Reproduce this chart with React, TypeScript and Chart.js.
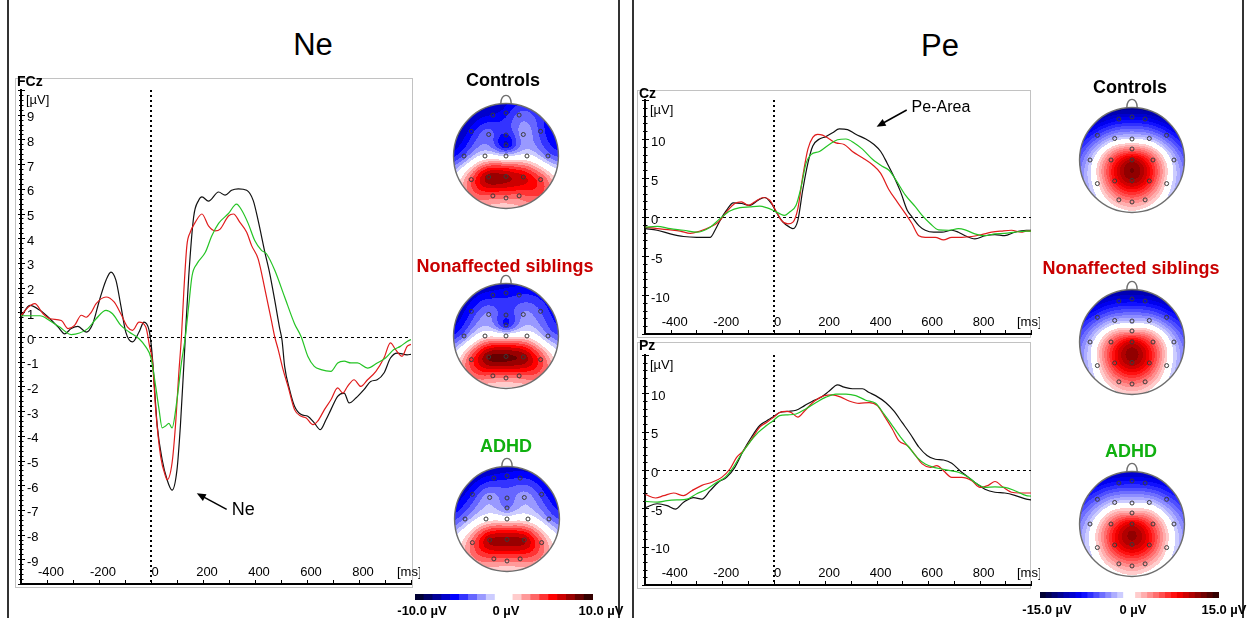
import React, { useEffect, useRef } from "react";
import { Chart, registerables } from "chart.js";

Chart.register(...registerables);

const FONT = '"Liberation Sans", Arial, Helvetica, sans-serif';

// ---------------- ERP waveforms (time in ms, amplitude in µV) ----------------
// FCz
const fczControlsT = [-500, -466, -427, -389, -357, -332, -307, -281, -249, -224, -198, -173, -154, -135, -116, -97, -71, -46, -27, -8, 0, 8, 24, 43, 62, 81, 100, 113, 126, 132, 145, 164, 183, 196, 221, 260, 285, 310, 336, 368, 393, 412, 438, 457, 476, 494, 504, 514, 533, 552, 578, 603, 628, 651, 673, 692, 718, 743, 762, 788, 819, 845, 870, 896, 921, 947, 985, 1000];
const fczControlsV = [0.8, 1.28, 1.08, 0.74, 0.4, 0.13, 0.34, 0.43, 0.2, 0.54, 1.5, 2.3, 2.63, 2.3, 1.27, 0.2, -0.2, 0.2, 0.6, 0.3, -0.24, -1.19, -3.6, -4.97, -5.78, -6.2, -5.37, -3.6, -1.19, 0, 2.43, 4.86, 5.53, 5.67, 5.5, 5.87, 5.74, 5.94, 6.0, 5.94, 5.53, 4.72, 3.43, 2.56, 1.48, 0.4, -0.13, -1.19, -2.13, -2.8, -3.14, -3.21, -3.48, -3.75, -3.35, -2.94, -2.4, -2.27, -2.67, -2.47, -2.13, -1.8, -1.73, -1.46, -0.85, -0.65, -0.72, -0.7];
const fczSiblingsT = [-500, -473, -447, -415, -389, -345, -319, -294, -268, -249, -230, -211, -173, -142, -116, -90, -71, -46, -20, -5, 5, 18, 37, 56, 62, 81, 94, 107, 117, 126, 138, 151, 170, 196, 221, 247, 266, 298, 317, 342, 368, 387, 412, 438, 463, 476, 489, 508, 527, 552, 578, 597, 623, 641, 667, 692, 718, 738, 756, 781, 807, 833, 865, 896, 921, 940, 966, 985, 1000];
const fczSiblingsV = [0.86, 1.2, 1.35, 0.94, 0.74, 0.67, 0.34, 0.47, 0.88, 0.8, 1.0, 1.35, 1.62, 1.42, 0.94, 0.4, 0.27, 0.6, 0.4, -0.4, -0.92, -2.94, -4.83, -5.64, -5.78, -5.1, -3.6, -1.46, 0, 1.8, 3.7, 4.24, 4.64, 4.98, 4.5, 4.3, 4.37, 4.9, 4.98, 4.64, 4.24, 3.7, 3.16, 1.94, 0.67, 0, -0.5, -1.32, -2.0, -2.94, -3.21, -3.28, -3.55, -3.41, -2.94, -2.54, -2.06, -2.27, -2.0, -1.73, -2.0, -1.73, -1.39, -0.85, -0.24, -0.5, -0.78, -0.38, -0.3];
const fczAdhdT = [-500, -466, -427, -389, -351, -307, -275, -243, -211, -173, -148, -116, -84, -46, -20, 0, 18, 31, 43, 56, 69, 81, 100, 117, 132, 145, 158, 177, 209, 234, 260, 298, 329, 349, 374, 399, 425, 444, 476, 514, 552, 578, 603, 628, 654, 692, 718, 743, 769, 794, 833, 870, 902, 934, 959, 985, 1000];
const fczAdhdV = [0.86, 0.86, 0.86, 0.66, 0.4, 0.1, 0.16, 0.34, 0.74, 1.08, 0.94, 0.47, 0.2, -0.07, -0.4, -0.85, -2.0, -2.94, -3.68, -3.6, -3.5, -3.68, -2.54, -1.05, 0, 1.27, 2.48, 2.97, 3.43, 4.1, 4.6, 5.0, 5.38, 5.13, 4.59, 3.91, 3.51, 3.37, 2.7, 1.62, 0.54, 0, -0.78, -1.19, -1.32, -1.39, -1.05, -0.98, -1.05, -1.05, -1.26, -1.05, -0.85, -0.51, -0.38, -0.18, -0.1];

// Cz
const czControlsT = [-498, -453, -402, -350, -299, -247, -228, -208, -183, -157, -125, -93, -60, -35, -9, 10, 36, 62, 75, 94, 113, 133, 152, 178, 203, 229, 255, 287, 319, 358, 390, 416, 441, 467, 493, 519, 538, 564, 589, 622, 654, 692, 718, 744, 782, 821, 860, 898, 937, 982, 1000];
const czControlsV = [-1.5, -1.7, -2.16, -2.5, -2.6, -2.6, -1.7, -0.43, 0.87, 1.82, 1.73, 1.5, 2.16, 2.5, 1.73, 0.65, -0.65, -1.3, -1.5, -0.43, 3.46, 6.9, 9.1, 10.0, 10.3, 10.8, 11.3, 11.2, 10.6, 10.0, 9.3, 8.4, 6.9, 5.2, 3.25, 0.87, 0, -1.1, -1.7, -1.95, -1.95, -1.7, -1.95, -2.4, -2.8, -2.4, -2.25, -2.4, -1.95, -1.7, -1.7];
const czSiblingsT = [-498, -453, -402, -363, -324, -286, -247, -215, -183, -151, -125, -99, -73, -41, -15, 4, 30, 55, 75, 94, 113, 133, 152, 171, 190, 216, 242, 274, 306, 345, 384, 416, 448, 480, 512, 538, 564, 589, 628, 660, 692, 731, 770, 808, 847, 885, 924, 963, 982, 1000];
const czSiblingsV = [-1.3, -1.5, -1.65, -1.8, -2.1, -1.8, -1.3, -0.65, 0.65, 1.73, 1.95, 1.5, 1.95, 2.5, 2.16, 1.08, -0.43, -0.87, -0.65, 1.08, 5.2, 8.7, 10.2, 10.6, 10.5, 10.0, 9.5, 9.3, 8.4, 7.6, 6.7, 5.6, 3.5, 1.95, 0.43, -0.87, -2.4, -2.6, -2.6, -2.94, -2.6, -2.6, -2.5, -2.25, -1.95, -1.8, -1.7, -1.95, -1.8, -1.8];
const czAdhdT = [-498, -453, -402, -350, -299, -247, -208, -170, -131, -93, -54, -28, -3, 23, 42, 62, 87, 107, 126, 145, 178, 216, 248, 281, 313, 345, 384, 422, 448, 474, 512, 551, 577, 609, 641, 680, 718, 744, 782, 821, 860, 898, 937, 982, 1000];
const czAdhdV = [-1.3, -1.2, -1.5, -1.7, -1.95, -1.3, -0.2, 0.78, 1.2, 1.3, 1.4, 1.2, 0.87, 0.43, 0.2, 0.65, 1.5, 3.9, 6.9, 8.0, 8.4, 9.3, 9.9, 10.0, 9.5, 8.7, 7.4, 6.5, 6.0, 4.8, 2.8, 1.3, 0.2, -0.87, -1.65, -1.7, -1.5, -1.65, -2.16, -2.4, -2.16, -2.1, -1.95, -1.8, -1.8];

// Pz
const pzControlsT = [-498, -453, -414, -382, -350, -311, -279, -247, -215, -183, -151, -118, -86, -54, -28, -3, 23, 55, 87, 120, 152, 184, 216, 248, 274, 306, 345, 371, 396, 435, 467, 499, 531, 564, 596, 628, 660, 692, 724, 757, 789, 821, 860, 898, 937, 982, 1000];
const pzControlsV = [-4.9, -4.4, -4.65, -5.1, -4.2, -3.6, -3.8, -2.7, -1.6, -0.96, 0.35, 2.5, 4.3, 5.8, 6.4, 6.9, 7.5, 7.65, 7.8, 8.4, 9.0, 9.5, 10.3, 11.1, 10.8, 10.6, 10.6, 10.1, 9.7, 8.8, 7.7, 6.2, 4.7, 3.0, 1.9, 1.4, 1.3, 0.87, -0.09, -0.96, -1.8, -2.5, -2.9, -3.0, -3.3, -3.8, -3.9];
const pzSiblingsT = [-498, -459, -427, -389, -350, -318, -279, -240, -202, -170, -144, -118, -86, -54, -28, -3, 23, 49, 68, 94, 120, 159, 197, 229, 261, 293, 332, 371, 403, 429, 461, 487, 519, 551, 577, 609, 634, 660, 692, 731, 770, 802, 834, 860, 892, 924, 956, 982, 1000];
const pzSiblingsV = [-3.2, -3.65, -3.35, -3.0, -3.35, -2.7, -2.0, -1.6, -0.96, 0.13, 1.65, 2.5, 4.0, 5.6, 6.2, 6.8, 7.5, 7.65, 7.5, 6.9, 7.7, 9.0, 9.7, 9.8, 9.5, 9.0, 8.7, 8.8, 8.4, 7.1, 5.35, 3.8, 3.2, 1.9, 0.8, 0.35, 0.57, -0.09, -0.96, -0.96, -1.4, -2.26, -2.0, -1.5, -2.26, -2.9, -3.0, -3.0, -3.0];
const pzAdhdT = [-498, -453, -414, -376, -337, -299, -260, -221, -189, -157, -125, -93, -60, -28, -3, 23, 55, 87, 126, 165, 203, 242, 281, 319, 358, 396, 429, 461, 493, 525, 557, 589, 622, 654, 686, 718, 757, 789, 821, 860, 898, 937, 982, 1000];
const pzAdhdV = [-4.1, -4.2, -4.0, -3.9, -3.8, -3.1, -2.5, -1.6, -0.96, 0.35, 2.1, 3.6, 4.9, 5.8, 6.4, 7.1, 7.2, 7.3, 8.0, 8.8, 9.5, 9.9, 9.9, 9.7, 9.1, 8.7, 7.3, 5.8, 4.3, 3.0, 1.65, 0.78, 0.35, 0.13, -0.09, -0.3, -0.96, -1.8, -2.26, -2.2, -2.26, -2.7, -3.35, -3.4];

// ---------------- Topography (electrode positions & values) ----------------
const electrodeNames = ["Fp1", "Fpz", "Fp2", "F7", "F3", "Fz", "F4", "F8", "FCz", "T7", "C3", "Cz", "C4", "T8", "P7", "P3", "Pz", "P4", "P8", "O1", "Oz", "O2"];
const electrodeX = [-0.25, 0, 0.25, -0.66, -0.33, 0, 0.33, 0.66, 0, -0.8, -0.4, 0, 0.4, 0.8, -0.66, -0.33, 0, 0.33, 0.66, -0.25, 0, 0.25];
const electrodeY = [0.78, 0.82, 0.78, 0.47, 0.41, 0.4, 0.41, 0.47, 0.21, 0, 0, 0, 0, 0, -0.45, -0.4, -0.39, -0.4, -0.45, -0.76, -0.8, -0.76];

const neControlsTopo = [-6, -5.5, -3.5, -5.5, -3, -5, -2, -4.5, -7, -4, -0.5, -1, -0.5, -3.5, 4, 8, 7.5, 6.5, 4.5, 3.5, 3, 3.5];
const neSiblingsTopo = [-5.5, -5.5, -5, -5, -2.5, -4.5, -2.5, -4, -6, -3.5, 0.5, 0.5, 0.5, -3, 4.5, 8.5, 8.5, 8, 4.5, 3.5, 3, 3.5];
const neAdhdTopo = [-5.5, -5.5, -5, -5, -2, -3.5, -2, -4.5, -3.5, -3, 0, 0, 0, -3, 3.5, 7.5, 7.5, 7.5, 3.5, 3.5, 3, 3.5];
const peControlsTopo = [-8.5, -9, -8.5, -6, -2, -1, -2, -6, 3.5, -2, 5.5, 11, 5.5, -2, 0.5, 7.5, 11, 7.5, 0.5, 3, 3.5, 3];
const peSiblingsTopo = [-8.5, -9, -8.5, -6, -2.5, -2, -2.5, -6, 2, -2, 5, 10, 5, -2, 0.5, 7.5, 11, 7.5, 0.5, 3.5, 4, 3.5];
const peAdhdTopo = [-7.5, -8, -7.5, -5, -1.5, -1, -1.5, -5, 2.5, -1.5, 5, 10, 5, -1.5, 1, 7.5, 10.5, 7.5, 1, 3, 3.5, 3];

// colour-scale bins (lower edge of each bin, µV)
const neScaleBins = [-10, -9, -8, -7, -6, -5, -4, -3, -2, -1, 0, 1, 2, 3, 4, 5, 6, 7, 8, 9];
const peScaleBins = [-15, -14, -13, -12, -11, -10, -9, -8, -7, -6, -5, -4, -3, -2, -1, 0, 1, 2, 3, 4, 5, 6, 7, 8, 9, 10, 11, 12, 13, 14];

// ---------------- styles ----------------
const COL_CONTROLS = "#111111";
const COL_SIBLINGS = "#e01c1c";
const COL_ADHD = "#25c425";
const BLUE_STEPS = ["#000033", "#000066", "#000099", "#0000cc", "#0000ff", "#3333ff", "#6666ff", "#9999ff", "#ccccff"];
const RED_STEPS = ["#ffcccc", "#ff9999", "#ff6666", "#ff3333", "#ff0000", "#cc0000", "#990000", "#660000", "#330000"];

function hexRgb(h: string): number[] {
  return [parseInt(h.slice(1, 3), 16), parseInt(h.slice(3, 5), 16), parseInt(h.slice(5, 7), 16)];
}
function makePalette(nBins: number): number[][] {
  const half = (nBins - 2) / 2;
  const sample = (list: string[], k: number) => {
    const pos = half <= 1 ? 0 : (k * (list.length - 1)) / (half - 1);
    const i = Math.floor(pos);
    const f = pos - i;
    const a = hexRgb(list[i]);
    const b = hexRgb(list[Math.min(i + 1, list.length - 1)]);
    return [0, 1, 2].map((c) => Math.round(a[c] + (b[c] - a[c]) * f));
  };
  const out: number[][] = [];
  for (let k = 0; k < half; k++) out.push(sample(BLUE_STEPS, k));
  out.push([255, 255, 255], [255, 255, 255]);
  for (let k = 0; k < half; k++) out.push(sample(RED_STEPS, k));
  return out;
}

// thin-plate spline interpolation of the electrode values
function fitSurface(xs: number[], ys: number[], vs: number[], lambda: number) {
  const n = xs.length;
  const N = n + 3;
  const U = (d2: number) => (d2 <= 1e-12 ? 0 : 0.5 * d2 * Math.log(d2));
  const M: number[][] = [];
  for (let i = 0; i < N; i++) M.push(new Array(N + 1).fill(0));
  for (let i = 0; i < n; i++) {
    for (let j = 0; j < n; j++) {
      const dx = xs[i] - xs[j];
      const dy = ys[i] - ys[j];
      M[i][j] = U(dx * dx + dy * dy) + (i === j ? lambda : 0);
    }
    M[i][n] = 1; M[i][n + 1] = xs[i]; M[i][n + 2] = ys[i];
    M[n][i] = 1; M[n + 1][i] = xs[i]; M[n + 2][i] = ys[i];
    M[i][N] = vs[i];
  }
  for (let c = 0; c < N; c++) {
    let p = c;
    for (let r = c + 1; r < N; r++) if (Math.abs(M[r][c]) > Math.abs(M[p][c])) p = r;
    const tmp = M[c]; M[c] = M[p]; M[p] = tmp;
    const piv = M[c][c];
    for (let r = 0; r < N; r++) {
      if (r === c) continue;
      const f = M[r][c] / piv;
      if (f !== 0) for (let k = c; k <= N; k++) M[r][k] -= f * M[c][k];
    }
  }
  const sol = M.map((row, i) => row[N] / row[i]);
  return (x: number, y: number) => {
    let s = sol[n] + sol[n + 1] * x + sol[n + 2] * y;
    for (let i = 0; i < n; i++) {
      const dx = x - xs[i];
      const dy = y - ys[i];
      s += sol[i] * U(dx * dx + dy * dy);
    }
    return s;
  };
}

// ---------------- ERP chart ----------------
type Series = { label: string; t: number[]; v: number[]; color: string };
type Arrow = { from: number[]; to: number[]; text: string; textAt: number[]; size: number };
type ErpProps = {
  left: number; top: number; width: number; height: number;
  pad: { left: number; right: number; top: number; bottom: number };
  frame: { x: number; y: number; w: number; h: number };
  name: string; yMax: number; yStep: number; yMinor: number;
  series: Series[]; arrow?: Arrow;
};

function ErpChart(p: ErpProps) {
  const ref = useRef<HTMLCanvasElement>(null);
  useEffect(() => {
    if (!ref.current) return;
    const decor = {
      id: "erpDecor",
      beforeDraw(chart: any) {
        const ctx = chart.ctx;
        const f = p.frame;
        ctx.save();
        ctx.strokeStyle = "#c2c2c2";
        ctx.lineWidth = 1;
        ctx.strokeRect(f.x + 0.5, f.y + 0.5, f.w, f.h);
        ctx.restore();
      },
      beforeDatasetsDraw(chart: any) {
        const { ctx, chartArea: a, scales } = chart;
        const x = scales.x;
        const y = scales.y;
        ctx.save();
        ctx.strokeStyle = "#000";
        const y0 = Math.round(y.getPixelForValue(0)) + 0.5;
        ctx.lineWidth = 1;
        ctx.setLineDash([3, 3]);
        ctx.beginPath(); ctx.moveTo(a.left + 12, y0); ctx.lineTo(a.right, y0); ctx.stroke();
        const x0 = Math.round(x.getPixelForValue(0));
        ctx.lineWidth = 2;
        ctx.setLineDash([2, 3]);
        ctx.beginPath(); ctx.moveTo(x0, a.top); ctx.lineTo(x0, a.bottom); ctx.stroke();
        ctx.setLineDash([]);
        ctx.lineWidth = 1;
        const nMinor = Math.round((y.max - y.min) / p.yMinor);
        for (let i = 0; i <= nMinor; i++) {
          const v = y.min + i * p.yMinor;
          const py = Math.round(y.getPixelForValue(v)) + 0.5;
          const major = Math.abs(v / p.yStep - Math.round(v / p.yStep)) < 1e-6;
          ctx.beginPath();
          ctx.moveTo(a.left - (major ? 3 : 2), py);
          ctx.lineTo(a.left + (major ? 4 : 2.5), py);
          ctx.stroke();
        }
        for (const tk of x.ticks) {
          const px = Math.round(x.getPixelForValue(tk.value)) + 0.5;
          ctx.beginPath(); ctx.moveTo(px, a.bottom); ctx.lineTo(px, a.bottom - 4); ctx.stroke();
        }
        ctx.restore();
      },
      afterDraw(chart: any) {
        const { ctx, chartArea: a, scales } = chart;
        const x = scales.x;
        const y = scales.y;
        ctx.save();
        ctx.fillStyle = "#000";
        ctx.textBaseline = "middle";
        ctx.textAlign = "left";
        ctx.font = `bold 14px ${FONT}`;
        ctx.fillText(p.name, p.frame.x + 2, p.frame.y + 4);
        ctx.font = `13px ${FONT}`;
        ctx.fillText("[µV]", a.left + 5, a.top + 10);
        ctx.fillText("[ms]", a.right - 14, a.bottom - 12);
        const ar = p.arrow;
        if (ar) {
          const fx = x.getPixelForValue(ar.from[0]);
          const fy = y.getPixelForValue(ar.from[1]);
          const tx = x.getPixelForValue(ar.to[0]);
          const ty = y.getPixelForValue(ar.to[1]);
          const ang = Math.atan2(ty - fy, tx - fx);
          ctx.strokeStyle = "#000";
          ctx.lineWidth = 1.5;
          ctx.beginPath(); ctx.moveTo(fx, fy); ctx.lineTo(tx - 6 * Math.cos(ang), ty - 6 * Math.sin(ang)); ctx.stroke();
          ctx.beginPath();
          ctx.moveTo(tx, ty);
          ctx.lineTo(tx - 9 * Math.cos(ang) + 3.8 * Math.sin(ang), ty - 9 * Math.sin(ang) - 3.8 * Math.cos(ang));
          ctx.lineTo(tx - 9 * Math.cos(ang) - 3.8 * Math.sin(ang), ty - 9 * Math.sin(ang) + 3.8 * Math.cos(ang));
          ctx.closePath();
          ctx.fill();
          ctx.font = `${ar.size}px ${FONT}`;
          ctx.fillText(ar.text, x.getPixelForValue(ar.textAt[0]), y.getPixelForValue(ar.textAt[1]));
        }
        ctx.restore();
      },
    };
    const chart = new Chart(ref.current, {
      type: "line",
      data: {
        datasets: p.series.map((s) => ({
          label: s.label,
          data: s.t.map((t, i) => ({ x: t, y: s.v[i] })),
          borderColor: s.color,
          borderWidth: 1.2,
          pointRadius: 0,
          fill: false,
          cubicInterpolationMode: "monotone",
        })),
      },
      options: {
        responsive: false,
        animation: false,
        devicePixelRatio: 1,
        events: [],
        layout: { padding: p.pad },
        plugins: { legend: { display: false }, tooltip: { enabled: false } },
        scales: {
          x: {
            type: "linear",
            min: -500,
            max: 1000,
            afterFit: (s: any) => { s.height = 0; s.paddingLeft = 0; s.paddingRight = 0; },
            grid: { display: false },
            border: { display: true, color: "#000", width: 2 },
            ticks: {
              stepSize: 100,
              mirror: true,
              padding: 4,
              labelOffset: 4,
              autoSkip: false,
              maxRotation: 0,
              minRotation: 0,
              color: "#000",
              font: { family: FONT, size: 13 },
              callback: (v: any) => (v % 200 === 0 && v >= -400 && v <= 800 ? String(v) : ""),
            },
          },
          y: {
            type: "linear",
            min: -p.yMax,
            max: p.yMax,
            afterFit: (s: any) => { s.width = 0; s.paddingTop = 0; s.paddingBottom = 0; },
            grid: { display: false },
            border: { display: true, color: "#000", width: 2 },
            ticks: {
              stepSize: p.yStep,
              mirror: true,
              padding: 6,
              labelOffset: 3,
              autoSkip: false,
              color: "#000",
              font: { family: FONT, size: 13 },
              callback: (v: any) => (Math.abs(v) >= p.yMax - 1e-9 ? "" : String(v)),
            },
          },
        },
      } as any,
      plugins: [decor],
    });
    return () => chart.destroy();
  }, []);
  return (
    <canvas
      ref={ref}
      width={p.width}
      height={p.height}
      style={{ position: "absolute", left: p.left, top: p.top, width: p.width, height: p.height }}
    />
  );
}

// ---------------- head topography ----------------
function HeadMap({ cx, cy, values, maxV, bins }: { cx: number; cy: number; values: number[]; maxV: number; bins: number[] }) {
  const ref = useRef<HTMLCanvasElement>(null);
  const SIZE = 140;
  const R = 56.5;
  const ext = SIZE / 2 / R;
  useEffect(() => {
    if (!ref.current) return;
    const surf = fitSurface(electrodeX, electrodeY, values, 0.02);
    const pal = makePalette(bins.length);
    const topo = {
      id: "topo",
      beforeDatasetsDraw(chart: any) {
        const { ctx, chartArea: a, scales } = chart;
        const x = scales.x;
        const y = scales.y;
        const w = Math.round(a.right - a.left);
        const h = Math.round(a.bottom - a.top);
        const off = document.createElement("canvas");
        off.width = w; off.height = h;
        const octx = off.getContext("2d")!;
        const img = octx.createImageData(w, h);
        const nb = bins.length;
        for (let j = 0; j < h; j++) {
          const yy = y.getValueForPixel(a.top + j + 0.5);
          for (let i = 0; i < w; i++) {
            const xx = x.getValueForPixel(a.left + i + 0.5);
            if (xx * xx + yy * yy > 1.0) continue;
            const val = surf(xx, yy);
            let k = Math.floor(((val + maxV) / (2 * maxV)) * nb);
            if (k < 0) k = 0;
            if (k > nb - 1) k = nb - 1;
            const c = pal[k];
            const q = (j * w + i) * 4;
            img.data[q] = c[0]; img.data[q + 1] = c[1]; img.data[q + 2] = c[2]; img.data[q + 3] = 255;
          }
        }
        octx.putImageData(img, 0, 0);
        ctx.drawImage(off, a.left, a.top);
        const px = (v: number) => x.getPixelForValue(v);
        const py = (v: number) => y.getPixelForValue(v);
        ctx.save();
        ctx.strokeStyle = "#6e6e6e";
        ctx.lineWidth = 1.4;
        ctx.beginPath();
        ctx.arc(px(0), py(0), px(1) - px(0), 0, Math.PI * 2);
        ctx.stroke();
        ctx.beginPath();
        ctx.moveTo(px(-0.1), py(0.995));
        ctx.bezierCurveTo(px(-0.1), py(1.21), px(0.1), py(1.21), px(0.1), py(0.995));
        ctx.stroke();
        ctx.restore();
      },
    };
    const chart = new Chart(ref.current, {
      type: "scatter",
      data: {
        datasets: [
          {
            label: "electrodes",
            data: electrodeX.map((ex, i) => ({ x: ex, y: electrodeY[i], name: electrodeNames[i] })),
            pointRadius: 2,
            pointBorderWidth: 1,
            pointBorderColor: "#3a3a3a",
            pointBackgroundColor: "rgba(0,0,0,0)",
          },
        ],
      },
      options: {
        responsive: false,
        animation: false,
        devicePixelRatio: 1,
        events: [],
        layout: { padding: 0 },
        plugins: { legend: { display: false }, tooltip: { enabled: false } },
        scales: {
          x: { type: "linear", min: -ext, max: ext, display: false },
          y: { type: "linear", min: -ext, max: ext, display: false },
        },
      } as any,
      plugins: [topo],
    });
    return () => chart.destroy();
  }, []);
  return (
    <canvas
      ref={ref}
      width={SIZE}
      height={SIZE}
      style={{ position: "absolute", left: cx - SIZE / 2, top: cy - SIZE / 2, width: SIZE, height: SIZE }}
    />
  );
}

function ColorBar({ left, top, width, height, bins }: { left: number; top: number; width: number; height: number; bins: number[] }) {
  const ref = useRef<HTMLCanvasElement>(null);
  useEffect(() => {
    if (!ref.current) return;
    const pal = makePalette(bins.length);
    const chart = new Chart(ref.current, {
      type: "bar",
      data: {
        labels: bins.map((b) => String(b)),
        datasets: [
          {
            data: bins.map(() => 1),
            backgroundColor: pal.map((c) => `rgb(${c[0]},${c[1]},${c[2]})`),
            borderWidth: 0,
            barPercentage: 1,
            categoryPercentage: 1,
          },
        ],
      },
      options: {
        responsive: false,
        animation: false,
        devicePixelRatio: 1,
        events: [],
        layout: { padding: 0 },
        plugins: { legend: { display: false }, tooltip: { enabled: false } },
        scales: { x: { display: false }, y: { display: false, min: 0, max: 1 } },
      } as any,
    });
    return () => chart.destroy();
  }, []);
  return (
    <canvas ref={ref} width={width} height={height} style={{ position: "absolute", left, top, width, height }} />
  );
}

function Label({ text, cx, cy, size, bold, color }: { text: string; cx: number; cy: number; size: number; bold?: boolean; color?: string }) {
  const h = Math.round(size * 1.3);
  return (
    <div
      style={{
        position: "absolute",
        left: cx - 200,
        width: 400,
        top: cy - h / 2,
        height: h,
        lineHeight: `${h}px`,
        textAlign: "center",
        whiteSpace: "nowrap",
        fontFamily: FONT,
        fontSize: size,
        fontWeight: bold ? "bold" : "normal",
        color: color || "#000",
      }}
    >
      {text}
    </div>
  );
}

const VLine = ({ x }: { x: number }) => (
  <div style={{ position: "absolute", left: x, top: 0, width: 1.5, height: 618, background: "#333" }} />
);

export default function App() {
  const fczSeries: Series[] = [
    { label: "ADHD", t: fczAdhdT, v: fczAdhdV, color: COL_ADHD },
    { label: "Nonaffected siblings", t: fczSiblingsT, v: fczSiblingsV, color: COL_SIBLINGS },
    { label: "Controls", t: fczControlsT, v: fczControlsV, color: COL_CONTROLS },
  ];
  const czSeries: Series[] = [
    { label: "ADHD", t: czAdhdT, v: czAdhdV, color: COL_ADHD },
    { label: "Nonaffected siblings", t: czSiblingsT, v: czSiblingsV, color: COL_SIBLINGS },
    { label: "Controls", t: czControlsT, v: czControlsV, color: COL_CONTROLS },
  ];
  const pzSeries: Series[] = [
    { label: "ADHD", t: pzAdhdT, v: pzAdhdV, color: COL_ADHD },
    { label: "Nonaffected siblings", t: pzSiblingsT, v: pzSiblingsV, color: COL_SIBLINGS },
    { label: "Controls", t: pzControlsT, v: pzControlsV, color: COL_CONTROLS },
  ];
  return (
    <div style={{ position: "absolute", left: 0, top: 0, width: 1248, height: 618, background: "#fff", overflow: "hidden" }}>
      <VLine x={7} />
      <VLine x={618} />
      <VLine x={632} />
      <VLine x={1242} />

      <Label text="Ne" cx={313} cy={45} size={31} />
      <Label text="Pe" cx={940} cy={46} size={31} />

      <ErpChart
        left={7} top={70} width={413} height={525}
        pad={{ left: 14, right: 9, top: 20, bottom: 11 }}
        frame={{ x: 8, y: 8, w: 397, h: 509 }}
        name="FCz" yMax={10} yStep={1} yMinor={0.2}
        series={fczSeries}
        arrow={{ from: [291, -6.98], to: [176, -6.33], text: "Ne", textAt: [311, -7.0], size: 18 }}
      />
      <ErpChart
        left={629} top={82} width={411} height={263}
        pad={{ left: 16, right: 9, top: 18, bottom: 11 }}
        frame={{ x: 8, y: 8, w: 393, h: 247 }}
        name="Cz" yMax={15} yStep={5} yMinor={1}
        series={czSeries}
        arrow={{ from: [517, 13.72], to: [400, 11.58], text: "Pe-Area", textAt: [536, 13.97], size: 16 }}
      />
      <ErpChart
        left={629} top={334} width={411} height={262}
        pad={{ left: 16, right: 9, top: 21, bottom: 11 }}
        frame={{ x: 8, y: 8, w: 393, h: 246 }}
        name="Pz" yMax={15} yStep={5} yMinor={1}
        series={pzSeries}
      />

      <Label text="Controls" cx={503} cy={80} size={18} bold />
      <Label text="Nonaffected siblings" cx={505} cy={266} size={18} bold color="#c80000" />
      <Label text="ADHD" cx={506} cy={446} size={18} bold color="#10b010" />
      <HeadMap cx={506} cy={156} values={neControlsTopo} maxV={10} bins={neScaleBins} />
      <HeadMap cx={506} cy={336} values={neSiblingsTopo} maxV={10} bins={neScaleBins} />
      <HeadMap cx={507} cy={519} values={neAdhdTopo} maxV={10} bins={neScaleBins} />
      <ColorBar left={415} top={594} width={178} height={6} bins={neScaleBins} />
      <Label text="-10.0 µV" cx={422} cy={610} size={13} bold />
      <Label text="0 µV" cx={506} cy={610} size={13} bold />
      <Label text="10.0 µV" cx={601} cy={610} size={13} bold />

      <Label text="Controls" cx={1130} cy={87} size={18} bold />
      <Label text="Nonaffected siblings" cx={1131} cy={268} size={18} bold color="#c80000" />
      <Label text="ADHD" cx={1131} cy={451} size={18} bold color="#10b010" />
      <HeadMap cx={1132} cy={160} values={peControlsTopo} maxV={15} bins={peScaleBins} />
      <HeadMap cx={1132} cy={342} values={peSiblingsTopo} maxV={15} bins={peScaleBins} />
      <HeadMap cx={1132} cy={524} values={peAdhdTopo} maxV={15} bins={peScaleBins} />
      <ColorBar left={1040} top={592} width={179} height={6} bins={peScaleBins} />
      <Label text="-15.0 µV" cx={1047} cy={609} size={13} bold />
      <Label text="0 µV" cx={1133} cy={609} size={13} bold />
      <Label text="15.0 µV" cx={1224} cy={609} size={13} bold />
    </div>
  );
}
